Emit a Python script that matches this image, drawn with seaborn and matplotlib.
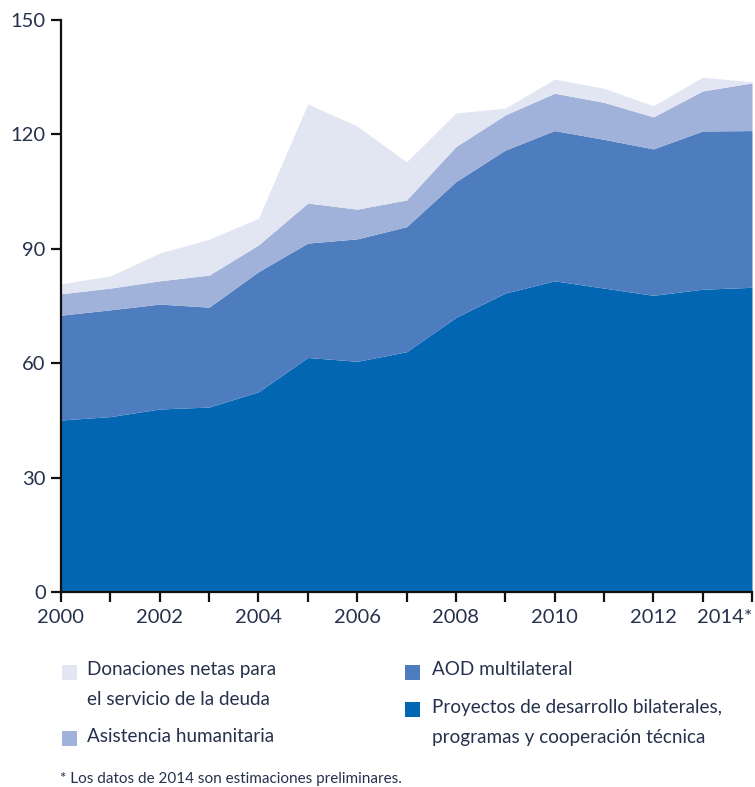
"""Stacked area chart: AOD components 2000-2014"""

import matplotlib.pyplot as plt
import seaborn as sns
from matplotlib.patches import Rectangle

years = [2000, 2001, 2002, 2003, 2004, 2005, 2006, 2007,
         2008, 2009, 2010, 2011, 2012, 2013, 2014]

# values (billions, stacked bottom to top)
bilateral = [45.1, 46.0, 48.0, 48.5, 52.5, 61.5, 60.5, 63.0,
             72.0, 78.4, 81.6, 79.7, 77.8, 79.4, 79.9]
multilateral = [27.5, 28.0, 27.5, 26.2, 31.5, 30.0, 32.1, 32.8,
                35.6, 37.5, 39.4, 39.0, 38.4, 41.5, 41.1]
humanitarian = [5.6, 5.7, 6.1, 8.4, 7.0, 10.5, 7.8, 7.0,
                9.2, 9.2, 9.8, 9.7, 8.4, 10.5, 12.5]
debt_relief = [2.6, 3.2, 7.3, 9.4, 7.0, 26.0, 21.8, 10.0,
               8.8, 1.8, 3.7, 3.7, 2.9, 3.6, 0.3]

xtick_years = [2000, 2002, 2004, 2006, 2008, 2010, 2012, 2014]
xtick_labels = ["2000", "2002", "2004", "2006", "2008", "2010", "2012", "2014*"]
yticks = [0, 30, 60, 90, 120, 150]

labels = ["Proyectos de desarrollo bilaterales,\nprogramas y cooperación técnica",
          "AOD multilateral",
          "Asistencia humanitaria",
          "Donaciones netas para\nel servicio de la deuda"]
colors = ["#0366b2", "#4e7dbf", "#a0b1da", "#e2e6f3"]
footnote = "* Los datos de 2014 son estimaciones preliminares."

sns.set_theme(style="ticks")
plt.rcParams["font.family"] = ["Lato", "DejaVu Sans"]
text_col = "#26314d"

W, H = 755, 787
fig = plt.figure(figsize=(W / 100, H / 100), dpi=100)
ax = fig.add_axes([61 / W, 1 - 592 / H, (752 - 61) / W, (592 - 20) / H])

ax.stackplot(years, bilateral, multilateral, humanitarian, debt_relief,
             colors=colors, linewidth=0)

ax.set_xlim(2000, 2014)
ax.set_ylim(0, 150)
ax.set_yticks(yticks)
ax.set_xticks(xtick_years)
ax.set_xticklabels(xtick_labels)
ax.set_xticks(years, minor=True)
sns.despine(ax=ax)
for side in ["left", "bottom"]:
    ax.spines[side].set_color("#111111")
    ax.spines[side].set_linewidth(1.6)
ax.tick_params(axis="both", which="both", direction="out", color="#111111",
               width=1.6, length=7, labelsize=14.5, labelcolor=text_col)
ax.tick_params(axis="x", pad=5)
ax.tick_params(axis="y", pad=4)
last = ax.get_xticklabels()[-1]
last.set_horizontalalignment("right")
ax.set_xlabel("")
ax.set_ylabel("")


def px(x, y):
    """pixel position (from top-left) to figure coords"""
    return x / W, 1 - y / H


# legend: (series index, swatch left, swatch top, text left, first line centre)
legend_pos = [(3, 62, 665, 87, 673),
              (2, 62, 731, 87, 740),
              (1, 405, 665, 432, 673),
              (0, 405, 702, 432, 711)]
for idx, bx, by, tx, ty in legend_pos:
    x0, y0 = px(bx, by + 15)
    fig.patches.append(Rectangle((x0, y0), 15 / W, 15 / H,
                                 transform=fig.transFigure,
                                 facecolor=colors[idx], edgecolor="none"))
    fx, fy = px(tx, ty - 12)
    fig.text(fx, fy, labels[idx], fontsize=13.6, color=text_col,
             va="top", ha="left", linespacing=1.9)

fx, fy = px(60, 779)
fig.text(fx, fy, footnote, fontsize=11, color=text_col, va="center", ha="left")

fig.savefig("out.png", dpi=100)
